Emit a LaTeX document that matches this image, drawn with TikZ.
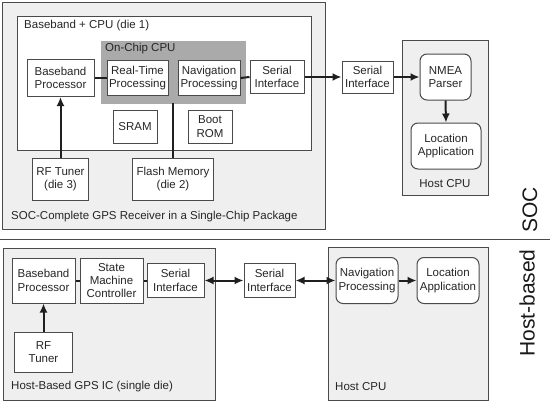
\documentclass[tikz,border=0pt]{standalone}
\usepackage{fontspec}
\setmainfont{Liberation Sans}
\usepackage{tikz}
\usetikzlibrary{arrows.meta, positioning}
\definecolor{panelgray}{HTML}{EFEFEF}
\definecolor{cpugray}{HTML}{AAAAAA}
\definecolor{edgegray}{HTML}{4A4A4A}
\tikzset{
  panelbox/.style={
    draw=edgegray, fill=panelgray, line width=1pt, inner sep=0pt
  },
  blockbox/.style={
    draw=edgegray, fill=white, line width=1pt, align=center,
    font=\fontsize{11.5}{13.3}\selectfont, text=black!85, inner sep=1pt
  },
  roundbox/.style={
    blockbox, rounded corners=7pt
  },
  linelabel/.style={
    font=\fontsize{11.5}{13.3}\selectfont, text=black!85, inner sep=0pt
  },
  sidelabel/.style={
    font=\fontsize{21}{23}\selectfont, text=black!90, rotate=90, inner sep=0pt
  },
  flowarrow/.style={
    -{Latex[length=9pt, width=8pt]}, line width=2pt, color=black!88
  },
  twowayarrow/.style={
    {Latex[length=9pt, width=8pt]}-{Latex[length=9pt, width=8pt]}, line width=2pt, color=black!88
  },
  linkline/.style={
    line width=2pt, color=black!88
  },
}

\begin{document}
\begin{tikzpicture}[x=1pt, y=-1pt]
  \useasboundingbox (0,0) rectangle (550,402);

  % === SOC: complete receiver in one package ===
  \node[panelbox, minimum width=323, minimum height=227] (socpkg) at (163.5,115.5) {};
  \node[blockbox, minimum width=294, minimum height=134] (die1) at (164,83) {};
  \node[linelabel, anchor=west] (die1lbl) at (24,26) {Baseband + CPU (die 1)};
  \node[draw=cpugray, fill=cpugray, minimum width=144, minimum height=62, inner sep=0pt] (onchip) at (173,72) {};
  \node[linelabel, anchor=west] (onchiplbl) at (105,49) {On-Chip CPU};

  \node[blockbox, minimum width=67, minimum height=37] (bbproc) at (60.5,78) {Baseband\\Processor};
  \node[blockbox, minimum width=61, minimum height=35] (rtproc) at (137.5,78) {Real-Time\\Processing};
  \node[blockbox, minimum width=62, minimum height=35] (navproc) at (209,78) {Navigation\\Processing};
  \node[blockbox, minimum width=54, minimum height=33] (serialA) at (277,77) {Serial\\Interface};
  \node[blockbox, minimum width=44, minimum height=33] (sram) at (135,126.5) {SRAM};
  \node[blockbox, minimum width=44, minimum height=33] (bootrom) at (210,126.5) {Boot\\ROM};
  \node[blockbox, minimum width=56, minimum height=42] (rftunerA) at (60.5,179) {RF Tuner\\(die 3)};
  \node[blockbox, minimum width=81, minimum height=42] (flash) at (173,179) {Flash Memory\\(die 2)};
  \node[linelabel, anchor=west] (soclbl) at (11,217) {SOC-Complete GPS Receiver in a Single-Chip Package};

  \node[blockbox, minimum width=51, minimum height=32] (serialB) at (367.5,77) {Serial\\Interface};

  % host side (top)
  \node[panelbox, minimum width=86, minimum height=155] (hostA) at (445,117.5) {};
  \node[roundbox, minimum width=51, minimum height=46] (nmea) at (445.5,77) {NMEA\\Parser};
  \node[roundbox, minimum width=70, minimum height=46] (locA) at (446,146) {Location\\Application};
  \node[linelabel] (hostAlbl) at (445,184) {Host CPU};

  \draw[linkline] (bbproc.east) -- (rtproc.west);
  \draw[linkline] (navproc.east) -- (serialA.west);
  \draw[linkline] (flash.north) -- (onchip.south);
  \draw[flowarrow] (rftunerA.north) -- (bbproc.south);
  \draw[flowarrow] (serialA.east) -- (serialB.west);
  \draw[flowarrow] (serialB.east) -- (nmea.west);
  \draw[flowarrow] (nmea.south) -- (locA.north);

  \node[sidelabel] (soctag) at (530,210) {SOC};

  % === separator ===
  \draw[line width=1pt, edgegray] (0,239) -- (550,239);

  % === Host-based ===
  \node[panelbox, minimum width=212, minimum height=152] (hbpkg) at (109,324) {};
  \node[blockbox, minimum width=63, minimum height=45] (bbprocB) at (43.5,280.5) {Baseband\\Processor};
  \node[blockbox, minimum width=63, minimum height=45] (smc) at (111.5,280.5) {State\\Machine\\Controller};
  \node[blockbox, minimum width=57, minimum height=34] (serialC) at (175.5,280.5) {Serial\\Interface};
  \node[blockbox, minimum width=58, minimum height=40] (rftunerB) at (43.5,352) {RF\\Tuner};
  \node[linelabel, anchor=west] (hblbl) at (11,387) {Host-Based GPS IC (single die)};

  \node[blockbox, minimum width=51, minimum height=34] (serialD) at (269.5,280.5) {Serial\\Interface};

  \node[panelbox, minimum width=160, minimum height=153] (hostB) at (408,323.5) {};
  \node[roundbox, minimum width=62, minimum height=46] (navB) at (367,280.5) {Navigation\\Processing};
  \node[roundbox, minimum width=62, minimum height=46] (locB) at (448,280.5) {Location\\Application};
  \node[linelabel, anchor=west] (hostBlbl) at (335,387) {Host CPU};

  \draw[linkline] (bbprocB.east) -- (smc.west);
  \draw[linkline] (smc.east) -- (serialC.west);
  \draw[flowarrow] (rftunerB.north) -- (bbprocB.south);
  \draw[twowayarrow] (serialC.east) -- (serialD.west);
  \draw[twowayarrow] (serialD.east) -- (navB.west);
  \draw[flowarrow] (navB.east) -- (locB.west);

  \node[sidelabel] (hbtag) at (527,303) {Host-based};

\end{tikzpicture}
\end{document}
